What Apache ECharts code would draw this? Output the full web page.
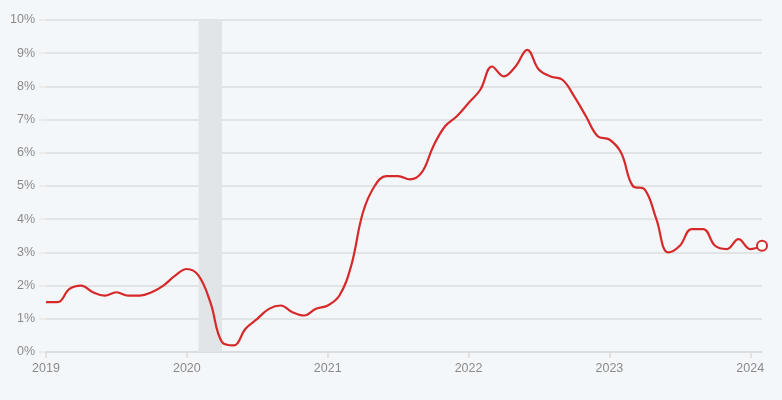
<!DOCTYPE html>
<html>
<head>
<meta charset="utf-8">
<script src="https://cdn.jsdelivr.net/npm/echarts@6/dist/echarts.min.js"></script>
<style>
html,body{margin:0;padding:0;background:#f4f7fa;}
#c{width:782px;height:400px;}
</style>
</head>
<body>
<div id="c"></div>
<script>
// Monthly values, Jan 2019 .. Feb 2024 (percent)
const startYear = 2019;
const values2019 = [1.5,1.5,1.9,2.0,1.8,1.7,1.8,1.7,1.7,1.8,2.0,2.3];
const values2020 = [2.5,2.3,1.5,0.3,0.2,0.7,1.0,1.3,1.4,1.2,1.1,1.3];
const values2021 = [1.4,1.7,2.6,4.2,5.0,5.3,5.3,5.2,5.4,6.2,6.8,7.1];
const values2022 = [7.5,7.9,8.6,8.3,8.6,9.1,8.5,8.3,8.2,7.7,7.1,6.5];
const values2023 = [6.4,6.0,5.0,4.9,4.0,3.0,3.2,3.7,3.7,3.2,3.1,3.4];
const values2024 = [3.1,3.2];
const yearTicks = ['2019','2020','2021','2022','2023','2024'];
// recession band: month indexes (Feb 2020 .. Apr 2020)
const recessionStart = 13;
const recessionEnd = 15;

const values = [].concat(values2019, values2020, values2021, values2022, values2023, values2024);
const seriesData = values.map((v, i) => [i, v]);
const lastIndex = values.length - 1;

const chart = echarts.init(document.getElementById('c'));
const labelStyle = {color:'#8a8a8a', fontSize:12.5, fontFamily:'"Liberation Sans", Arial, sans-serif'};
chart.setOption({
  backgroundColor:'#f4f7fa',
  animation:false,
  grid:{left:46, right:20, top:20, bottom:48, containLabel:false},
  xAxis:{
    type:'value', min:0, max:lastIndex, interval:12,
    axisLine:{show:true, lineStyle:{color:'#dcdcdc', width:1.5}},
    axisTick:{show:true, length:6, lineStyle:{color:'#dcdcdc', width:1.5}},
    splitLine:{show:false},
    axisLabel:Object.assign({margin:10, formatter:(v)=>yearTicks[Math.round(v/12)] || ''}, labelStyle)
  },
  yAxis:{
    type:'value', min:0, max:10, interval:1,
    axisLine:{show:false},
    axisTick:{show:true, length:7, lineStyle:{color:'#e8e8e8', width:1.5}},
    splitLine:{show:true, lineStyle:{color:'#dcdcdc', width:1.5}},
    axisLabel:Object.assign({margin:11, formatter:'{value}%'}, labelStyle)
  },
  series:[{
    type:'line',
    data:seriesData,
    smooth:0.4,
    showSymbol:false,
    lineStyle:{color:'#d62a2a', width:2.2},
    itemStyle:{color:'#d62a2a'},
    markArea:{
      silent:true,
      itemStyle:{color:'#e2e5e8'},
      data:[[{xAxis:recessionStart},{xAxis:recessionEnd}]]
    },
    markPoint:{
      silent:true,
      symbol:'circle',
      symbolSize:10,
      itemStyle:{color:'#ffffff', borderColor:'#d62a2a', borderWidth:2},
      label:{show:false},
      data:[{coord:seriesData[lastIndex]}]
    },
    z:3
  }]
});
</script>
</body>
</html>
